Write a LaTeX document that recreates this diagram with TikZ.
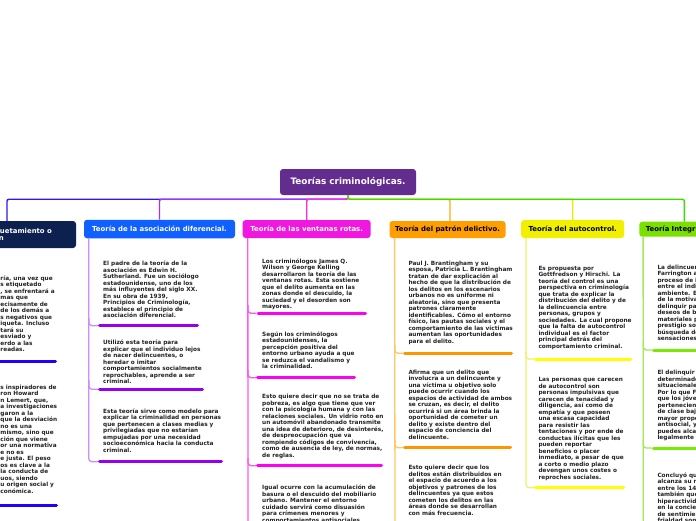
\documentclass[tikz,border=0pt]{standalone}
\usepackage{fontspec}
\setmainfont{DejaVu Sans}
\definecolor{cCentral}{RGB}{99,45,143}
\definecolor{cL}{RGB}{12,33,80}
\definecolor{cA}{RGB}{16,96,255}
\definecolor{cB}{RGB}{240,24,224}
\definecolor{cC}{RGB}{255,158,0}
\definecolor{cD}{RGB}{240,240,0}
\definecolor{cE}{RGB}{122,224,0}
\definecolor{cLc}{RGB}{55,20,240}
\definecolor{cAc}{RGB}{160,50,255}
\definecolor{cBc}{RGB}{255,40,235}
\definecolor{cCc}{RGB}{255,170,20}
\definecolor{cDc}{RGB}{235,235,0}
\definecolor{cEc}{RGB}{60,220,0}
\definecolor{cAt}{RGB}{205,140,255}
\definecolor{cBt}{RGB}{255,90,240}
\definecolor{cCt}{RGB}{255,200,100}
\definecolor{cDt}{RGB}{240,240,110}
\definecolor{cEt}{RGB}{160,235,90}
\definecolor{cLb}{RGB}{34,0,255}
\definecolor{cAb}{RGB}{150,0,240}
\definecolor{cBb}{RGB}{255,0,240}
\definecolor{cCb}{RGB}{255,150,0}
\definecolor{cDb}{RGB}{255,255,0}
\definecolor{cEb}{RGB}{120,235,0}
\definecolor{cText}{RGB}{35,35,35}
\begin{document}
\begin{tikzpicture}[x=1pt,y=-1pt,
 body/.style={anchor=north west,align=left,inner sep=0pt,font=\fontsize{5.77}{6.5}\selectfont\bfseries,text=cText},
 topic/.style={rounded corners=3pt,inner sep=0pt,font=\fontsize{6.9}{7.7}\selectfont\bfseries},
 conn/.style={line width=1.4pt,rounded corners=2pt},
 trunk/.style={line width=1.3pt,rounded corners=3pt},
 bar/.style={line width=3pt,line cap=round}]
\useasboundingbox (0,0) rectangle (696,520);
\clip (0,0) rectangle (696,520);
\fill[white] (0,0) rectangle (696,520);

% root and topics
\node[topic,fill=cCentral,text=white,minimum width=136pt,minimum height=26pt,font=\fontsize{8.9}{10}\selectfont\bfseries] (root) at (348,182) {Teorías criminológicas.};
\node[topic,fill=cL,text=white,text width=124pt,align=left,inner xsep=7pt,minimum height=27pt] (tL) at (7,234.5) {\hspace*{55pt}uetamiento o\\\hspace*{54pt}n};
\node[topic,fill=cA,text=white,minimum width=151pt,minimum height=18.5pt] (tA) at (159.5,229) {Teoría de la asociación diferencial.};
\node[topic,fill=cB,text=white,minimum width=128pt,minimum height=18pt] (tB) at (306.7,229) {Teoría de las ventanas rotas.};
\node[topic,fill=cC,text=black,minimum width=116pt,minimum height=17pt] (tC) at (447.5,229.5) {Teoría del patrón delictivo.};
\node[topic,fill=cD,text=black,minimum width=103pt,minimum height=18pt] (tD) at (572.7,229) {Teoría del autocontrol.};
\node[topic,fill=cE,text=black,text width=77pt,align=left,inner xsep=6.5pt,minimum height=15pt] (tE) at (684.3,229.2) {Teoría Integr};

% connectors
\draw[conn,cLc] (root.south) -- ++(0,4) -| (tL.north);
\draw[conn,cAc] (root.south) -- ++(0,4) -| (tA.north);
\draw[conn,cBc] (root.south) -- ++(0,4) -| (tB.north);
\draw[conn,cCc] (root.south) -- ++(0,4) -| ([xshift=2.5pt]tC.north);
\draw[conn,cDc] (root.south) -- ++(0,4) -| (tD.north);
\draw[conn,cEc] (root.south) -- ++(0,4) -| (tE.north);

% trunks and branches
\draw[trunk,cAt] ([xshift=5pt]tA.south west) |- (98,461.7);
\draw[trunk,cAt] (89,318) |- (98,325.7);
\draw[trunk,cAt] (89,380) |- (98,389.3);
\draw[trunk,cBt] ([xshift=5.3pt]tB.south west) -- (248,525);
\draw[trunk,cBt] (248,305) |- (256,313.3);
\draw[trunk,cBt] (248,370) |- (256,377.7);
\draw[trunk,cBt] (248,458) |- (256,465.7);
\draw[trunk,cCt] ([xshift=5.3pt]tC.south west) -- (395,525);
\draw[trunk,cCt] (395,345) |- (403,353.3);
\draw[trunk,cCt] (395,440) |- (403,447.7);
\draw[trunk,cDt] ([xshift=5pt]tD.south west) |- (534,487.7);
\draw[trunk,cDt] (526,351) |- (534,359);
\draw[trunk,cEt] ([xshift=4pt]tE.south west) -- (643.3,525);
\draw[trunk,cEt] (643.3,342) |- (652,350);
\draw[trunk,cEt] (643.3,440) |- (652,448);

% bars
\draw[bar,cLb] (-5,361) -- (55.5,361);
\draw[bar,cLb] (-5,505) -- (56.5,505);
\draw[bar,cAb] (99.5,325.7) -- (197.5,325.7);
\draw[bar,cAb] (99.5,389.3) -- (202.5,389.3);
\draw[bar,cAb] (99.5,461.7) -- (221.5,461.7);
\draw[bar,cBb] (258,313.3) -- (365.5,313.3);
\draw[bar,cBb] (257.5,377.7) -- (354.5,377.7);
\draw[bar,cBb] (257.5,465.7) -- (381.5,465.7);
\draw[bar,cCb] (404.5,353.3) -- (511.5,353.3);
\draw[bar,cCb] (404.5,447.7) -- (510.5,447.7);
\draw[bar,cDb] (535.5,359) -- (630.5,359);
\draw[bar,cDb] (535.5,487.7) -- (623.5,487.7);
\draw[bar,cEb] (653.5,350) -- (700,350);
\draw[bar,cEb] (653.5,448) -- (700,448);

% left column (clipped)
\node[body] (L1) at (0.3,275.2) {ría, una vez que\\s etiquetado\\, se enfrentará a\\mas que\\ecisamente de\\de los demás a\\s negativos que\\iqueta. Incluso\\tará su\\esviado y\\erdo a las\\readas.};
\node[body] (L2) at (0.3,384.8) {s inspiradores de\\ron Howard\\n Lemert, que,\\a investigaciones\\garon a la\\que la desviación\\no es una\\mismo, sino que\\ción que viene\\or una normativa\\e no es\\e justa. El peso\\os es clave a la\\ la conducta de\\uos, siendo\\u origen social y\\conómica.};

% asociacion diferencial
\node[body] (A1) at (103,260.8) {El padre de la teoría de la\\asociación es Edwin H.\\Sutherland. Fue un sociólogo\\estadounidense, uno de los\\más influyentes del siglo XX.\\En su obra de 1939,\\Principios de Criminología,\\establece el principio de\\asociación diferencial.};
\node[body] (A2) at (103,339.8) {Utilizó esta teoría para\\explicar que el individuo lejos\\de nacer delincuentes, o\\heredar o imitar\\comportamientos socialmente\\reprochables, aprende a ser\\criminal.};
\node[body] (A3) at (103,408.5) {Esta teoría sirve como modelo para\\explicar la criminalidad en personas\\que pertenecen a clases medias y\\privilegiadas que no estarían\\empujadas por una necesidad\\socioeconómica hacia la conducta\\criminal.};

% ventanas rotas
\node[body] (B1) at (262,258.2) {Los criminólogos James Q.\\Wilson y George Kelling\\desarrollaron la teoría de las\\ventanas rotas. Esta sostiene\\que el delito aumenta en las\\zonas donde el descuido, la\\suciedad y el desorden son\\mayores.};
\node[body] (B2) at (262,331.5) {Según los criminólogos\\estadounidenses, la\\percepción positiva del\\entorno urbano ayuda a que\\se reduzca el vandalismo y\\la criminalidad.};
\node[body] (B3) at (262,394.2) {Esto quiere decir que no se trata de\\pobreza, es algo que tiene que ver\\con la psicología humana y con las\\relaciones sociales. Un vidrio roto en\\un automóvil abandonado transmite\\una idea de deterioro, de desinterés,\\de despreocupación que va\\rompiendo códigos de convivencia,\\como de ausencia de ley, de normas,\\de reglas.};
\node[body] (B4) at (262,484.8) {Igual ocurre con la acumulación de\\basura o el descuido del mobiliario\\urbano. Mantener el entorno\\cuidado servirá como disuasión\\para crímenes menores y\\comportamientos antisociales};

% patron delictivo
\node[body] (C1) at (408.3,260.8) {Paul J. Brantingham y su\\esposa, Patricia L. Brantingham\\tratan de dar explicación al\\hecho de que la distribución de\\los delitos en los escenarios\\urbanos no es uniforme ni\\aleatoria, sino que presenta\\patrones claramente\\identificables. Cómo el entorno\\físico, las pautas sociales y el\\comportamiento de las víctimas\\aumentan las oportunidades\\para el delito.};
\node[body] (C2) at (408.3,369.8) {Afirma que un delito que\\involucra a un delincuente y\\una víctima u objetivo solo\\puede ocurrir cuando los\\espacios de actividad de ambos\\se cruzan, es decir, el delito\\ocurrirá si un área brinda la\\oportunidad de cometer un\\delito y existe dentro del\\espacio de conciencia del\\delincuente.};
\node[body] (C3) at (408.3,465.2) {Esto quiere decir que los\\delitos están distribuidos en\\el espacio de acuerdo a los\\objetivos y patrones de los\\delincuentes ya que estos\\cometen los delitos en las\\áreas donde se desarrollan\\con más frecuencia.};

% autocontrol
\node[body] (D1) at (538.3,265.8) {Es propuesta por\\Gottfredson y Hirschi. La\\teoría del control es una\\perspectiva en criminología\\que trata de explicar la\\distribución del delito y de\\la delincuencia entre\\personas, grupos y\\sociedades. La cual propone\\que la falta de autocontrol\\individual es el factor\\principal detrás del\\comportamiento criminal.};
\node[body] (D2) at (538.3,377.5) {Las personas que carecen\\de autocontrol son\\personas impulsivas que\\carecen de tenacidad y\\diligencia, así como de\\empatía y que poseen\\una escasa capacidad\\para resistir las\\tentaciones y por ende de\\conductas ilícitas que les\\pueden reportar\\beneficios o placer\\inmediato, a pesar de que\\a corto o medio plazo\\devengan unos costes o\\reproches sociales.};

% integradora (clipped)
\node[body] (E1) at (657.3,264.8) {La delincuen\\Farrington a\\proceso de i\\entre el indiv\\ambiente. El\\de la motiva\\delinquir par\\deseos de bi\\materiales p\\prestigio soc\\búsqueda de\\sensaciones.};
\node[body] (E2) at (657.3,370.2) {El delinquir\\determinado\\situacionales\\Por lo que Fa\\que los jóven\\pertenecient\\de clase baja\\mayor propen\\antisocial, y\\puedes alcan\\legalmente s};
\node[body] (E3) at (657.3,472.5) {Concluyó que\\alcanza su n\\entre los 14\\también que\\hiperactivida\\en la concien\\de sentimien\\frialdad son};
\end{tikzpicture}
\end{document}
